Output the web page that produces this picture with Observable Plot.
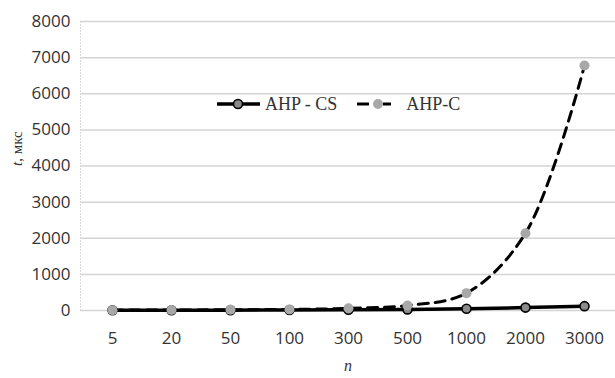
<!DOCTYPE html>
<html>
<head>
<meta charset="utf-8">
<script src="https://cdn.jsdelivr.net/npm/d3@7"></script>
<script src="https://cdn.jsdelivr.net/npm/@observablehq/plot@0.6"></script>
<style>
  body { margin: 0; background: #fff; }
  #wrap { position: relative; width: 615px; height: 378px; }
  #legend { position: absolute; left: 217px; top: 92px; height: 24px; display: flex; align-items: center;
            font-family: "Liberation Serif", "Times New Roman", serif; font-size: 18px; color: #333; }
  #legend svg { display: block; }
</style>
</head>
<body>
<div id="wrap"></div>
<script>
const categories = ["5", "20", "50", "100", "300", "500", "1000", "2000", "3000"];
const ahpCS = [5, 8, 10, 15, 20, 30, 50, 80, 120];
const ahpC = [10, 15, 20, 30, 60, 140, 480, 2140, 6780];
const yTicks = [0, 1000, 2000, 3000, 4000, 5000, 6000, 7000, 8000];

const dataCS = categories.map((n, i) => ({n, t: ahpCS[i]}));
const dataC = categories.map((n, i) => ({n, t: ahpC[i]}));

const chart = Plot.plot({
  width: 615,
  height: 378,
  marginLeft: 80,
  marginRight: 0,
  marginTop: 21,
  marginBottom: 68,
  style: { fontFamily: "'Open Sans', sans-serif", background: "transparent" },
  x: { type: "point", domain: categories, padding: 0.5 },
  y: { domain: [0, 8000] },
  marks: [
    Plot.gridY(yTicks, { stroke: "#d4d4d4", strokeOpacity: 1, strokeWidth: 1.5 }),
    Plot.frame({ anchor: "left", stroke: "#d8d8d8", strokeDasharray: "1,2", strokeWidth: 1 }),
    Plot.axisY(yTicks, { tickSize: 0, tickPadding: 10, fontSize: 17, fill: "#333", label: null, tickFormat: d => String(d) }),
    Plot.axisX({ tickSize: 0, tickPadding: 21, fontSize: 17, fill: "#333", label: null }),
    Plot.line(dataC, { x: "n", y: "t", stroke: "black", strokeWidth: 3, strokeDasharray: "10,7", curve: "catmull-rom" }),
    Plot.line(dataCS, { x: "n", y: "t", stroke: "black", strokeWidth: 3.5 }),
    Plot.dot(dataCS, { x: "n", y: "t", r: 4.5, fill: "#8a8a8a", stroke: "black", strokeWidth: 1.6 }),
    Plot.dot(dataC, { x: "n", y: "t", r: 5, fill: "#a8a8a8", stroke: "none" }),
    Plot.text(["t, мкс"], { frameAnchor: "left", dx: -63, rotate: -90, fontSize: 15, fontFamily: "'Liberation Serif', serif", fill: "#333", className: "ylab" }),
    Plot.text(["n"], { frameAnchor: "bottom", dy: 60, fontSize: 16, fontStyle: "italic", fontFamily: "'Liberation Serif', serif", fill: "#333" })
  ]
});

// italicise the "t" in the y label
d3.select(chart).selectAll("g.ylab text").each(function() {
  const el = d3.select(this);
  const txt = el.text();
  el.text(null);
  el.append("tspan").attr("font-style", "italic").text(txt.slice(0, 1));
  el.append("tspan").text(txt.slice(1));
});

const wrap = document.getElementById("wrap");
wrap.appendChild(chart);

const legend = document.createElement("div");
legend.id = "legend";
legend.innerHTML = `
  <svg width="43" height="24"><line x1="0" y1="12" x2="43" y2="12" stroke="black" stroke-width="3.5"/>
    <circle cx="21" cy="12" r="4.5" fill="#8a8a8a" stroke="black" stroke-width="1.6"/></svg>
  <span style="margin-left:5px">AHP - CS</span>
  <svg width="34" height="24" style="margin-left:20px"><line x1="0" y1="12" x2="12" y2="12" stroke="black" stroke-width="3"/>
    <line x1="26" y1="12" x2="34" y2="12" stroke="black" stroke-width="3"/>
    <circle cx="21" cy="12" r="5" fill="#a8a8a8"/></svg>
  <span style="margin-left:15px">AHP-C</span>`;
wrap.appendChild(legend);
</script>
</body>
</html>
